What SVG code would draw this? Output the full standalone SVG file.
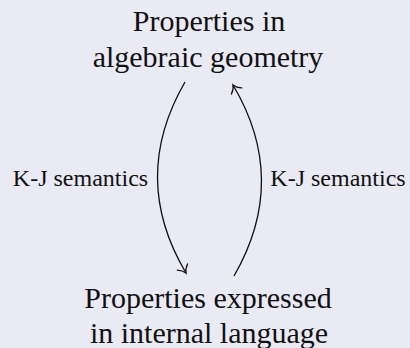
<svg xmlns="http://www.w3.org/2000/svg" width="410" height="348" viewBox="0 0 410 348">
<style>
.node{font-size:30px;fill:#111;text-anchor:middle;}
.lbl{font-size:24px;fill:#111;text-anchor:middle;}
.edge{fill:none;stroke:#111;stroke-width:1.3;}
</style>
<defs>
<marker id="to" markerUnits="userSpaceOnUse" markerWidth="20" markerHeight="20" viewBox="-10 -10 20 20" refX="0" refY="0" orient="auto">
<path d="M-7,-6 C-5,-3 -2,-0.7 0,0 C-2,0.7 -5,3 -7,6" fill="none" stroke="#111" stroke-width="1.3" stroke-linecap="round"/>
</marker>
</defs>
<rect width="410" height="348" fill="#eaeaf5"/>
<g id="top" font-family="Liberation Serif, serif">
<text class="node" x="209" y="30.5">Properties in</text>
<text class="node" x="208" y="66.5">algebraic geometry</text>
</g>
<g id="bottom" font-family="Liberation Serif, serif">
<text class="node" x="208" y="308">Properties expressed</text>
<text class="node" x="209" y="343">in internal language</text>
</g>
<g id="connectors" font-family="Liberation Serif, serif">
<path class="edge" d="M185,82 C148,146 148,209 186,273" marker-end="url(#to)"/>
<path class="edge" d="M234,276 C271,212 271,149 233,85" marker-end="url(#to)"/>
<text class="lbl" x="80.5" y="186">K-J semantics</text>
<text class="lbl" x="338" y="186">K-J semantics</text>
</g>
</svg>
